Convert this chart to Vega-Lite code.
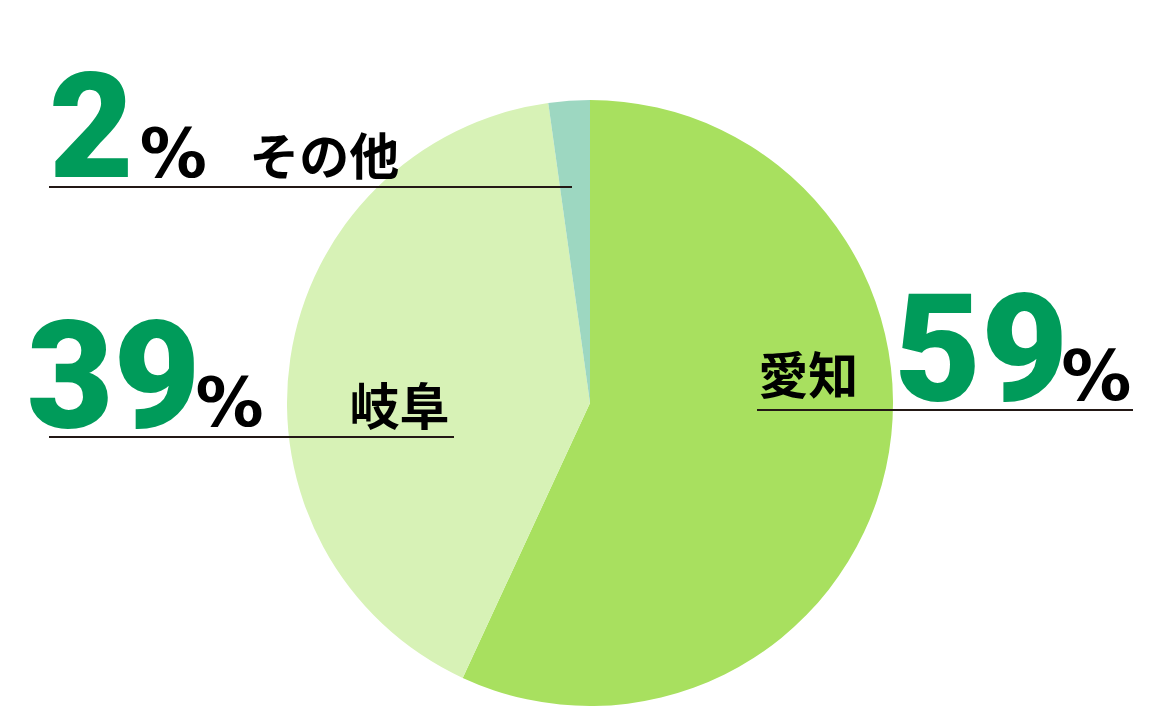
{
  "$schema": "https://vega.github.io/schema/vega-lite/v6.json",
  "width": 1156,
  "height": 618,
  "autosize": {"type": "none"},
  "padding": {"left": 12, "top": 94, "right": 0, "bottom": 0},
  "background": "white",
  "config": {"view": {"stroke": null}},
  "data": {
    "values": [
      {"region": "愛知", "share": 56.9, "label": "59"},
      {"region": "岐阜", "share": 40.9, "label": "39"},
      {"region": "その他", "share": 2.2, "label": "2"}
    ]
  },
  "layer": [
    {
      "encoding": {
        "theta": {"field": "share", "type": "quantitative", "stack": true},
        "order": {"field": "region", "type": "nominal", "sort": "descending"},
        "detail": {"field": "region", "type": "nominal"}
      },
      "layer": [
        {
          "mark": {"type": "arc", "outerRadius": 303, "stroke": null},
          "encoding": {
            "color": {
              "field": "region",
              "type": "nominal",
              "scale": {"domain": ["愛知", "岐阜", "その他"], "range": ["#a8e05f", "#d7f2b6", "#9dd7c1"]},
              "legend": null
            }
          }
        },
        {
          "mark": {"type": "text", "radius": 330, "dx": 69, "dy": -73, "align": "center", "baseline": "alphabetic", "font": "Roboto", "fontWeight": 900, "fontSize": 150, "color": "#009b5a"},
          "encoding": {"text": {"condition": {"test": "datum.region === '愛知'", "field": "label"}, "value": ""}}
        },
        {
          "mark": {"type": "text", "radius": 330, "dx": 184, "dy": -74, "align": "center", "baseline": "alphabetic", "font": "DejaVu Sans", "fontWeight": "bold", "fontSize": 70, "color": "#000000"},
          "encoding": {"text": {"condition": {"test": "datum.region === '愛知'", "value": "%"}, "value": ""}}
        },
        {
          "mark": {"type": "text", "radius": 330, "dx": -104, "dy": -80, "align": "center", "baseline": "alphabetic", "font": "Noto Sans CJK JP", "fontWeight": "bold", "fontSize": 50, "color": "#000000"},
          "encoding": {"text": {"condition": {"test": "datum.region === '愛知'", "field": "region"}, "value": ""}}
        },
        {
          "mark": {"type": "text", "radius": 330, "dx": -150, "dy": 74, "align": "center", "baseline": "alphabetic", "font": "Roboto", "fontWeight": 900, "fontSize": 150, "color": "#009b5a"},
          "encoding": {"text": {"condition": {"test": "datum.region === '岐阜'", "field": "label"}, "value": ""}}
        },
        {
          "mark": {"type": "text", "radius": 330, "dx": -34, "dy": 72, "align": "center", "baseline": "alphabetic", "font": "DejaVu Sans", "fontWeight": "bold", "fontSize": 68, "color": "#000000"},
          "encoding": {"text": {"condition": {"test": "datum.region === '岐阜'", "value": "%"}, "value": ""}}
        },
        {
          "mark": {"type": "text", "radius": 330, "dx": 136, "dy": 71, "align": "center", "baseline": "alphabetic", "font": "Noto Sans CJK JP", "fontWeight": "bold", "fontSize": 50, "color": "#000000"},
          "encoding": {"text": {"condition": {"test": "datum.region === '岐阜'", "field": "region"}, "value": ""}}
        },
        {
          "mark": {"type": "text", "radius": 330, "dx": -476, "dy": 103, "align": "center", "baseline": "alphabetic", "font": "Roboto", "fontWeight": 900, "fontSize": 146, "color": "#009b5a"},
          "encoding": {"text": {"condition": {"test": "datum.region === 'その他'", "field": "label"}, "value": ""}}
        },
        {
          "mark": {"type": "text", "radius": 330, "dx": -394, "dy": 103, "align": "center", "baseline": "alphabetic", "font": "DejaVu Sans", "fontWeight": "bold", "fontSize": 67, "color": "#000000"},
          "encoding": {"text": {"condition": {"test": "datum.region === 'その他'", "value": "%"}, "value": ""}}
        },
        {
          "mark": {"type": "text", "radius": 330, "dx": -243, "dy": 101, "align": "center", "baseline": "alphabetic", "font": "Noto Sans CJK JP", "fontWeight": "bold", "fontSize": 50, "color": "#000000"},
          "encoding": {"text": {"condition": {"test": "datum.region === 'その他'", "field": "region"}, "value": ""}}
        }
      ]
    },
    {
      "transform": [{"filter": "datum.region === '愛知'"}],
      "mark": {"type": "rule", "color": "#231815", "strokeWidth": 2},
      "encoding": {"x": {"value": 745}, "x2": {"value": 1121}, "y": {"value": 316}}
    },
    {
      "transform": [{"filter": "datum.region === '岐阜'"}],
      "mark": {"type": "rule", "color": "#231815", "strokeWidth": 2},
      "encoding": {"x": {"value": 37}, "x2": {"value": 442}, "y": {"value": 343}}
    },
    {
      "transform": [{"filter": "datum.region === 'その他'"}],
      "mark": {"type": "rule", "color": "#231815", "strokeWidth": 2},
      "encoding": {"x": {"value": 37}, "x2": {"value": 560}, "y": {"value": 93}}
    }
  ]
}
